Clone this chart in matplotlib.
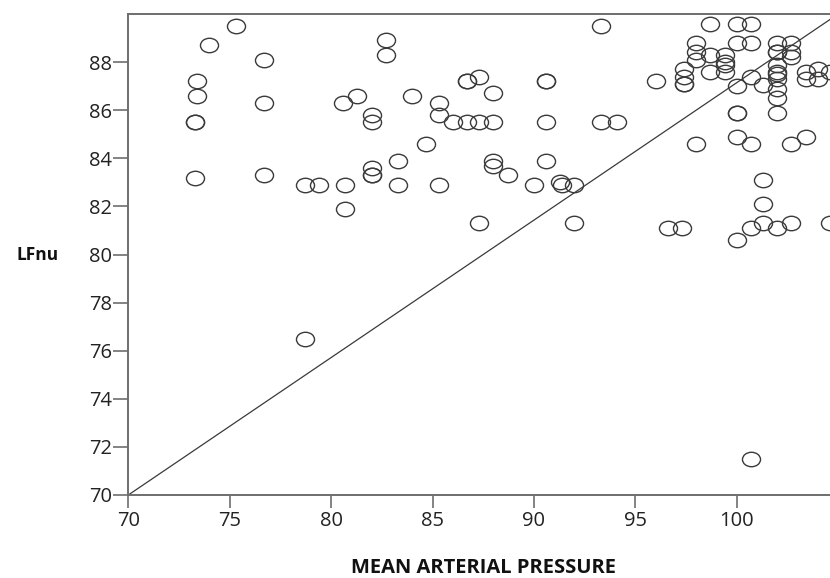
import matplotlib
matplotlib.use("Agg")
import matplotlib.pyplot as plt
from matplotlib.path import Path
import numpy as np

plt.rcParams['font.family'] = ['Open Sans', 'DejaVu Sans']

# Data (MAP vs LFnu)
map_values = [
    73.4, 73.4, 73.3, 73.3, 73.3, 74.0, 75.3, 76.7, 76.7, 76.7,
    78.7, 79.4, 78.7, 80.7, 80.7, 80.6, 81.3, 82.0, 82.0, 82.0,
    82.0, 82.0, 82.7, 82.7, 83.3, 83.3, 84.0, 84.7, 85.3, 85.3,
    85.3, 86.0, 86.7, 87.3, 88.0, 86.7, 86.7, 87.3, 88.0, 87.3,
    88.0, 88.0, 88.7, 90.0, 90.6, 90.6, 90.6, 90.6, 91.3, 91.4,
    92.0, 92.0, 93.3, 93.3, 94.1, 96.0, 96.6, 97.3, 97.4, 97.4,
    97.4, 97.4, 98.0, 98.0, 98.0, 98.0, 98.7, 98.7, 98.7, 99.4,
    99.4, 99.4, 99.4, 100.0, 100.0, 100.0, 100.0, 100.0, 100.0, 100.0,
    100.7, 100.7, 100.7, 100.7, 100.7, 100.7, 101.3, 101.3, 101.3, 101.3,
    102.0, 102.0, 102.0, 102.0, 102.0, 102.0, 102.0, 102.0, 102.0, 102.0,
    102.0, 102.7, 102.7, 102.7, 102.7, 102.7, 103.4, 103.4, 103.4, 104.0,
    104.0, 104.6, 104.6,
]
lfnu_values = [
    87.2, 86.6, 85.5, 85.5, 83.2, 88.7, 89.5, 88.1, 86.3, 83.3,
    82.9, 82.9, 76.5, 82.9, 81.9, 86.3, 86.6, 85.8, 85.5, 83.6,
    83.3, 83.3, 88.9, 88.3, 83.9, 82.9, 86.6, 84.6, 86.3, 85.8,
    82.9, 85.5, 85.5, 85.5, 85.5, 87.2, 87.2, 87.4, 86.7, 81.3,
    83.9, 83.7, 83.3, 82.9, 87.2, 87.2, 85.5, 83.9, 83.0, 82.9,
    82.9, 81.3, 89.5, 85.5, 85.5, 87.2, 81.1, 81.1, 87.7, 87.4,
    87.1, 87.1, 88.8, 88.4, 88.1, 84.6, 89.6, 88.3, 87.6, 88.3,
    88.0, 87.9, 87.6, 89.6, 88.8, 87.0, 85.9, 85.9, 84.9, 80.6,
    89.6, 88.8, 87.4, 84.6, 81.1, 71.5, 87.05, 83.1, 82.1, 81.3,
    88.8, 88.4, 88.4, 87.9, 87.6, 87.5, 87.3, 86.9, 86.5, 85.9,
    81.1, 88.8, 88.4, 88.2, 84.6, 81.3, 87.6, 87.3, 84.9, 87.7,
    87.3, 87.6, 81.3,
]

# Reference line (diagonal of the plot frame)
ref_x = [70, 105]
ref_y = [70, 90]

x_ticks = [70, 75, 80, 85, 90, 95, 100]
y_ticks = [70, 72, 74, 76, 78, 80, 82, 84, 86, 88]
x_limits = (70, 105)
y_limits = (70, 90)

W, H = 830, 578
fig = plt.figure(figsize=(W / 100, H / 100), dpi=100)
left_px, right_px, top_px, bottom_px = 128.3, 838.1, 14.0, 495.0
ax = fig.add_axes([left_px / W, (H - bottom_px) / H,
                   (right_px - left_px) / W, (bottom_px - top_px) / H])

# slightly flattened circle marker (reference is horizontally stretched)
circ = Path.unit_circle()
ell = Path(circ.vertices * np.array([1.0, 0.8]), circ.codes)

ax.plot(ref_x, ref_y, color='#3a3a3a', linewidth=0.9, zorder=2)
ax.plot(map_values, lfnu_values, linestyle='none', marker=ell, markersize=13,
        markerfacecolor='none', markeredgecolor='#3a3a3a', markeredgewidth=1.0,
        zorder=3)

ax.set_xlim(*x_limits)
ax.set_ylim(*y_limits)
ax.set_xticks(x_ticks)
ax.set_yticks(y_ticks)

spine_col = '#6e6e6e'
for side in ['left', 'bottom', 'top']:
    ax.spines[side].set_color(spine_col)
    ax.spines[side].set_linewidth(1.4)
ax.spines['right'].set_visible(False)

ax.tick_params(axis='y', length=11, width=1.2, color=spine_col, pad=1,
               labelsize=14.5, labelcolor='#222222')
ax.tick_params(axis='x', length=9.5, width=1.2, color=spine_col, pad=2,
               labelsize=14.5, labelcolor='#222222')

ax.set_xlabel('MEAN ARTERIAL PRESSURE', fontsize=14.5, fontweight='bold',
              color='#111111', va='center')
ax.xaxis.set_label_coords(0.5, (495 - 568) / (bottom_px - top_px))
ax.set_ylabel('LFnu', fontsize=12.5, fontweight='bold', rotation=0,
              color='#111111', ha='center', va='center')
ax.yaxis.set_label_coords((38 - left_px) / (right_px - left_px),
                          (495 - 255) / (bottom_px - top_px))

fig.savefig('out.png', dpi=100)
